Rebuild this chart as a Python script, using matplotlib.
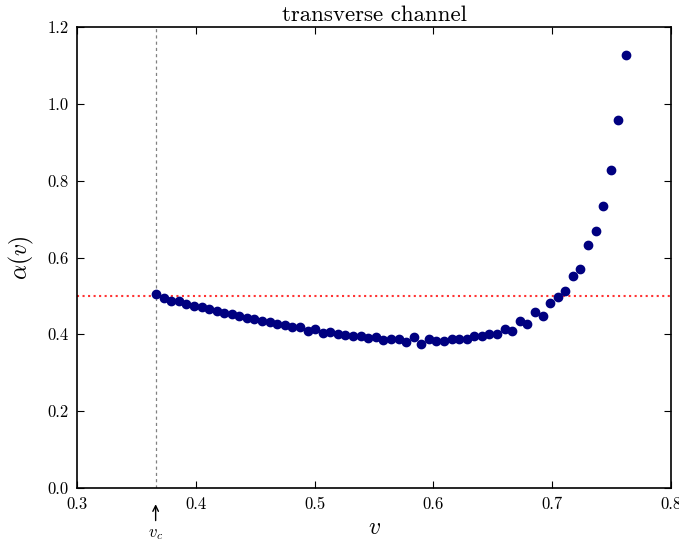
import matplotlib
matplotlib.use("Agg")
import matplotlib.pyplot as plt

plt.rcParams['font.family'] = ['cmr10', 'DejaVu Sans']
plt.rcParams['mathtext.fontset'] = 'cm'
plt.rcParams['axes.formatter.use_mathtext'] = True

v_c = 0.3662
v = [0.3665, 0.3729, 0.3793, 0.3856, 0.3920, 0.3984, 0.4048, 0.4112, 0.4175, 0.4239,
     0.4303, 0.4367, 0.4431, 0.4494, 0.4558, 0.4622, 0.4686, 0.4750, 0.4813, 0.4877,
     0.4941, 0.5005, 0.5069, 0.5132, 0.5196, 0.5260, 0.5324, 0.5388, 0.5451, 0.5515,
     0.5579, 0.5643, 0.5707, 0.5770, 0.5834, 0.5898, 0.5962, 0.6026, 0.6089, 0.6153,
     0.6217, 0.6281, 0.6345, 0.6408, 0.6472, 0.6536, 0.6600, 0.6664, 0.6727, 0.6791,
     0.6855, 0.6919, 0.6983, 0.7046, 0.7110, 0.7174, 0.7238, 0.7302, 0.7365, 0.7429,
     0.7493, 0.7557, 0.7621]
alpha = [0.506, 0.495, 0.488, 0.487, 0.479, 0.475, 0.470, 0.466, 0.461, 0.456,
         0.452, 0.448, 0.443, 0.439, 0.435, 0.431, 0.427, 0.424, 0.420, 0.418,
         0.408, 0.414, 0.404, 0.406, 0.402, 0.397, 0.395, 0.396, 0.390, 0.392,
         0.386, 0.387, 0.388, 0.380, 0.393, 0.376, 0.388, 0.383, 0.382, 0.388,
         0.387, 0.388, 0.395, 0.395, 0.400, 0.402, 0.414, 0.408, 0.435, 0.428,
         0.458, 0.449, 0.482, 0.496, 0.514, 0.551, 0.569, 0.633, 0.669, 0.733,
         0.829, 0.959, 1.126]
x_ticks = [0.3, 0.4, 0.5, 0.6, 0.7, 0.8]
y_ticks = [0.0, 0.2, 0.4, 0.6, 0.8, 1.0, 1.2]

fig = plt.figure(figsize=(6.79, 5.42), dpi=100)
ax = fig.add_axes([77/679, 1-488/542, (671-77)/679, (488-27)/542])

ax.axhline(0.5, color='#ff3333', linestyle=':', linewidth=1.5, zorder=1)
ax.axvline(v_c, color='gray', linestyle='--', linewidth=0.9, dashes=(2.5, 2.5), zorder=1)
ax.plot(v, alpha, 'o', color='#000080', markeredgecolor='#000080', markersize=6, zorder=3)

ax.set_xlim(0.3, 0.8)
ax.set_ylim(0.0, 1.2)
ax.set_xticks(x_ticks)
ax.set_yticks(y_ticks)
ax.set_xticklabels(['%.1f' % t for t in x_ticks])
ax.set_yticklabels(['%.1f' % t for t in y_ticks])
ax.tick_params(direction='in', top=True, right=True, length=5, width=0.8, labelsize=12, pad=6)
for s in ax.spines.values():
    s.set_linewidth(1.2)

ax.set_title('transverse channel', fontsize=16.5, pad=4)
ax.set_xlabel(r'$v$', fontsize=17, labelpad=4)
ax.set_ylabel(r'$\alpha(v)$', fontsize=17, labelpad=8)

ax.annotate('', xy=(v_c, -0.035), xytext=(v_c, -0.092), xycoords='data',
            arrowprops=dict(arrowstyle='->', color='black', lw=1.0),
            annotation_clip=False)
ax.text(v_c, -0.12, r'$v_c$', ha='center', va='center', fontsize=12, clip_on=False)

fig.savefig('out.png', dpi=100, facecolor='white')
